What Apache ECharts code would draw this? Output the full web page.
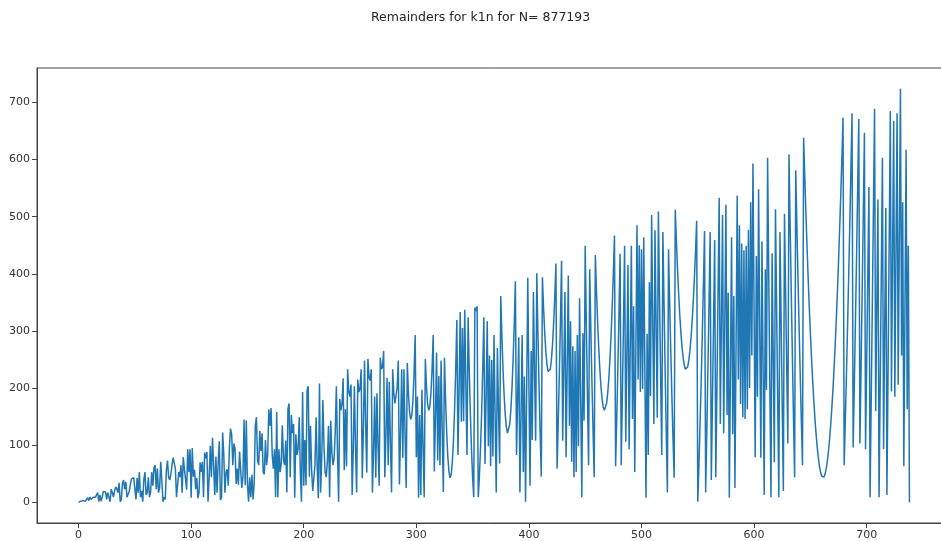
<!DOCTYPE html>
<html>
<head>
<meta charset="utf-8">
<script src="https://cdn.jsdelivr.net/npm/echarts@6/dist/echarts.min.js"></script>
<style>
html,body{margin:0;padding:0;background:#fff;}
#chart{width:941px;height:541px;}
</style>
</head>
<body>
<div id="chart"></div>
<script>
const titleText = 'Remainders for k1n for N= 877193';
// remainders for k = 1 .. 739, plotted at index 0 .. 738
const remainders = [
0,1,2,1,3,5,2,1,8,3,
9,5,5,9,8,9,10,17,1,13,
2,9,19,17,18,5,17,9,1,23,
17,9,20,27,23,17,34,1,5,33,
39,23,36,9,8,19,32,41,44,43,
44,5,43,17,53,9,20,1,40,53,
13,17,44,9,18,53,29,61,65,23,
59,17,25,71,68,1,9,5,56,73,
44,39,49,65,78,79,59,9,9,53,
44,65,17,79,58,41,22,93,53,93,
8,95,45,57,23,43,7,17,70,53,
71,9,87,77,88,1,44,99,44,113,
64,13,80,17,68,107,4,9,122,83,
17,53,58,29,98,129,119,65,103,93,
32,59,31,89,88,25,44,145,30,143,
34,1,44,9,48,5,34,135,149,73,
65,125,90,121,53,49,109,65,83,163,
134,165,83,59,93,9,158,9,93,53,
67,135,74,65,108,17,163,173,44,153,
121,137,8,119,83,93,149,53,1,193,
29,109,30,197,203,45,134,57,20,23,
66,149,59,7,208,17,79,179,98,53,
44,71,134,9,143,87,65,77,123,203,
86,1,181,161,173,217,56,163,63,233,
194,185,206,13,93,203,96,17,215,193,
199,233,42,131,248,137,52,251,219,213,
233,17,88,185,43,191,98,29,253,233,
237,265,44,119,218,65,211,103,17,233,
192,173,176,201,248,31,121,233,78,233,
119,25,244,191,158,145,152,179,226,293,
79,185,8,153,13,197,94,9,251,203,
173,161,167,191,233,293,54,149,262,73,
221,65,248,125,18,253,179,121,79,53,
43,49,71,109,163,233,319,83,200,333,
141,305,142,337,203,83,324,233,156,93,
44,9,341,335,343,9,44,93,156,233,
324,67,185,317,98,257,63,249,80,293,
149,17,270,163,68,361,291,233,187,153,
131,121,123,137,163,201,251,313,387,83,
180,289,17,149,293,53,220,1,191,393,
206,29,265,109,368,233,108,401,297,203,
119,45,394,341,298,265,242,229,226,233,
250,277,314,361,418,59,135,221,317,423,
108,233,368,79,233,397,134,317,71,273,
44,265,53,293,98,357,179,9,296,143,
449,313,185,65,408,305,210,123,44,433,
371,317,271,233,203,181,167,161,163,173,
191,217,251,293,343,401,467,63,144,233,
330,435,65,185,313,449,106,257,416,93,
267,449,146,343,53,265,485,215,450,193,
443,199,464,233,8,295,83,385,186,503,
317,137,476,309,148,509,361,219,83,473,
350,233,122,17,443,351,265,185,111,43,
512,457,408,365,328,297,272,253,240,233,
232,237,248,265,288,317,352,393,440,493,
1,65,135,211,293,381,475,17,122,233,
350,473,39,173,313,459,44,201,364,533,
137,317,503,121,318,521,153,367,8,233,
464,119,361,25,278,537,215,485,172,453,
149,441,146,449,163,477,200,525,257,593,
334,79,431,185,548,311,78,457,233,13,
408,197,603,401,203,9,436,251,70,513,
341,173,9,473,318,167,20,505,367,233,
103,609,488,371,258,149,44,581,485,393,
305,221,141,65,638,571,508,449,394,343,
296,253,214,179,148,121,98,79,64,53,
46,43,44,49,58,71,88,109,134,163,
196,233,274,319,368,421,478,539,604,673,
65,141,221,305,393,485,581,681,96,203,
314,429,548,671,103,233,367,505,647,93,
242,395,552,9,173,341,513,689,160,343,
530,9,203,401,603,93,302,515,13,233,
457,685,194,429,668,185,431,681,206,463,
724,257,525,63,338,617,163,449,0
];
const xTicks = [0,100,200,300,400,500,600,700];
const yTicks = [0,100,200,300,400,500,600,700];

const seriesData = remainders.map((v, i) => [i, v]);
const n = remainders.length - 1;
const yMax = Math.max.apply(null, remainders);

const chart = echarts.init(document.getElementById('chart'), null, {renderer: 'canvas'});
const axisColor = '#444';
const labelStyle = {color: '#333', fontSize: 11, fontFamily: 'DejaVu Sans'};
chart.setOption({
  animation: false,
  backgroundColor: '#fff',
  title: {
    text: titleText,
    left: 366, top: 6,
    textStyle: {fontSize: 12.5, fontWeight: 'normal', color: '#262626', fontFamily: 'DejaVu Sans'}
  },
  grid: {
    left: 37, top: 68, width: 914, height: 455,
    outerBoundsMode: 'none',
    containLabel: false,
    show: true, borderColor: axisColor, borderWidth: 1, backgroundColor: 'transparent'
  },
  xAxis: {
    type: 'value',
    min: -0.05 * n, max: n * 1.05,
    axisLine: {show: true, onZero: false, lineStyle: {color: axisColor, width: 1}},
    axisTick: {show: true, length: 5, customValues: xTicks, lineStyle: {color: axisColor}},
    axisLabel: Object.assign({margin: 7, customValues: xTicks}, labelStyle),
    splitLine: {show: false}
  },
  yAxis: {
    type: 'value',
    min: -0.05 * yMax, max: yMax * 1.05,
    axisLine: {show: true, onZero: false, lineStyle: {color: axisColor, width: 1}},
    axisTick: {show: true, length: 5, customValues: yTicks, lineStyle: {color: axisColor}},
    axisLabel: Object.assign({margin: 7, customValues: yTicks}, labelStyle),
    splitLine: {show: false}
  },
  series: [{
    type: 'line',
    data: seriesData,
    showSymbol: false,
    symbol: 'none',
    sampling: null,
    clip: true,
    lineStyle: {color: '#1f77b4', width: 1.5},
    itemStyle: {color: '#1f77b4'}
  }]
});
</script>
</body>
</html>
